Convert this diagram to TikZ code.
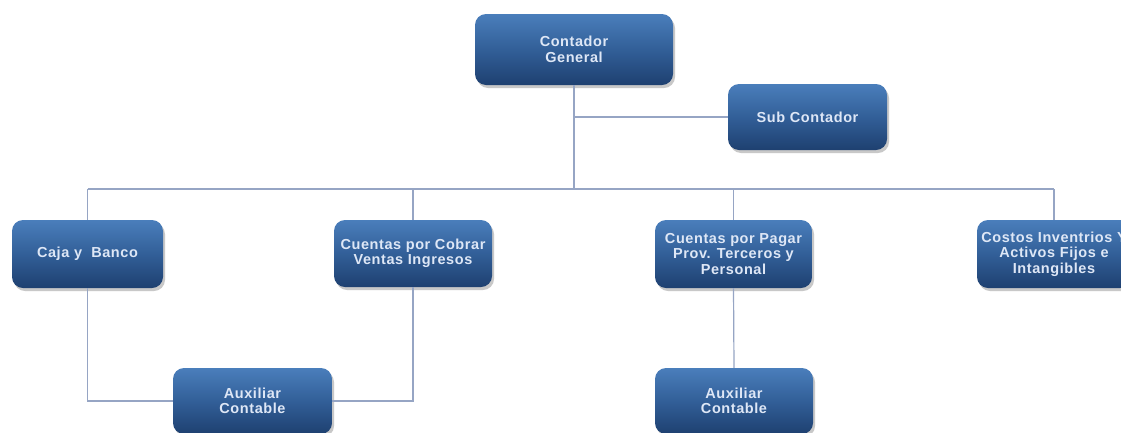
\documentclass[tikz,border=0pt]{standalone}
\usepackage{fontspec}
\setmainfont{Liberation Sans}
\newfontfamily\boxfont[LetterSpace=4]{Liberation Sans}
\usetikzlibrary{shadows}
\definecolor{boxtop}{RGB}{74,126,187}
\definecolor{boxmid}{RGB}{50,95,152}
\definecolor{boxbot}{RGB}{30,64,112}
\definecolor{boxtext}{RGB}{222,231,246}
\definecolor{linkc}{RGB}{150,165,196}
\begin{document}
\begin{tikzpicture}[x=1pt,y=-1pt,
  post/.style={rounded corners=11pt, top color=boxtop, bottom color=boxbot,
    middle color=boxmid, draw=none,
    drop shadow={shadow xshift=2pt, shadow yshift=-3pt, opacity=0.3, fill=black!70},
    text=boxtext, align=center, inner sep=2pt,
    font=\boxfont\bfseries\fontsize{14.5}{15.5}\selectfont},
  link/.style={draw=linkc, line width=1.2pt}]
  \useasboundingbox (0,0) rectangle (1121,432);
  \fill[white] (0,0) rectangle (1121,432);
  \clip (0,0) rectangle (1121,432);

  % boxes
  \node[post, minimum width=198pt, minimum height=71pt] (gen) at (574,49.5) {Contador\\General};
  \node[post, minimum width=159pt, minimum height=66pt] (sub) at (807.5,117) {Sub Contador};
  \node[post, minimum width=151pt, minimum height=68pt] (caja) at (87.5,254) {Caja y~ Banco};
  \node[post, minimum width=158pt, minimum height=67pt] (cobrar) at (413,253.5) {Cuentas por Cobrar\\Ventas Ingresos};
  \node[post, minimum width=157pt, minimum height=68pt] (pagar) at (733.5,254) {Cuentas por Pagar\\Prov. Terceros y\\Personal};
  \node[post, minimum width=154pt, minimum height=68pt] (costos) at (1054,254) {Costos Inventrios Y\\Activos Fijos e\\Intangibles};
  \node[post, minimum width=159pt, minimum height=66pt] (aux1) at (252.5,401) {Auxiliar\\Contable};
  \node[post, minimum width=158pt, minimum height=66pt] (aux2) at (734,401) {Auxiliar\\Contable};

  % connectors
  \coordinate (bus) at (574,189);
  \draw[link] (gen.south) -- (bus);
  \draw[link] (gen.south |- sub.west) -- (sub.west);
  \draw[link] (caja.north |- bus) -- (costos.north |- bus);
  \draw[link] (caja.north |- bus) -- (caja.north);
  \draw[link] (cobrar.north |- bus) -- (cobrar.north);
  \draw[link] (pagar.north |- bus) -- (pagar.north);
  \draw[link] (costos.north |- bus) -- (costos.north);
  \draw[link] (caja.south) |- (aux1.west);
  \draw[link] (cobrar.south) |- (aux1.east);
  \draw[link] (pagar.south) -- (aux2.north);
\end{tikzpicture}
\end{document}
